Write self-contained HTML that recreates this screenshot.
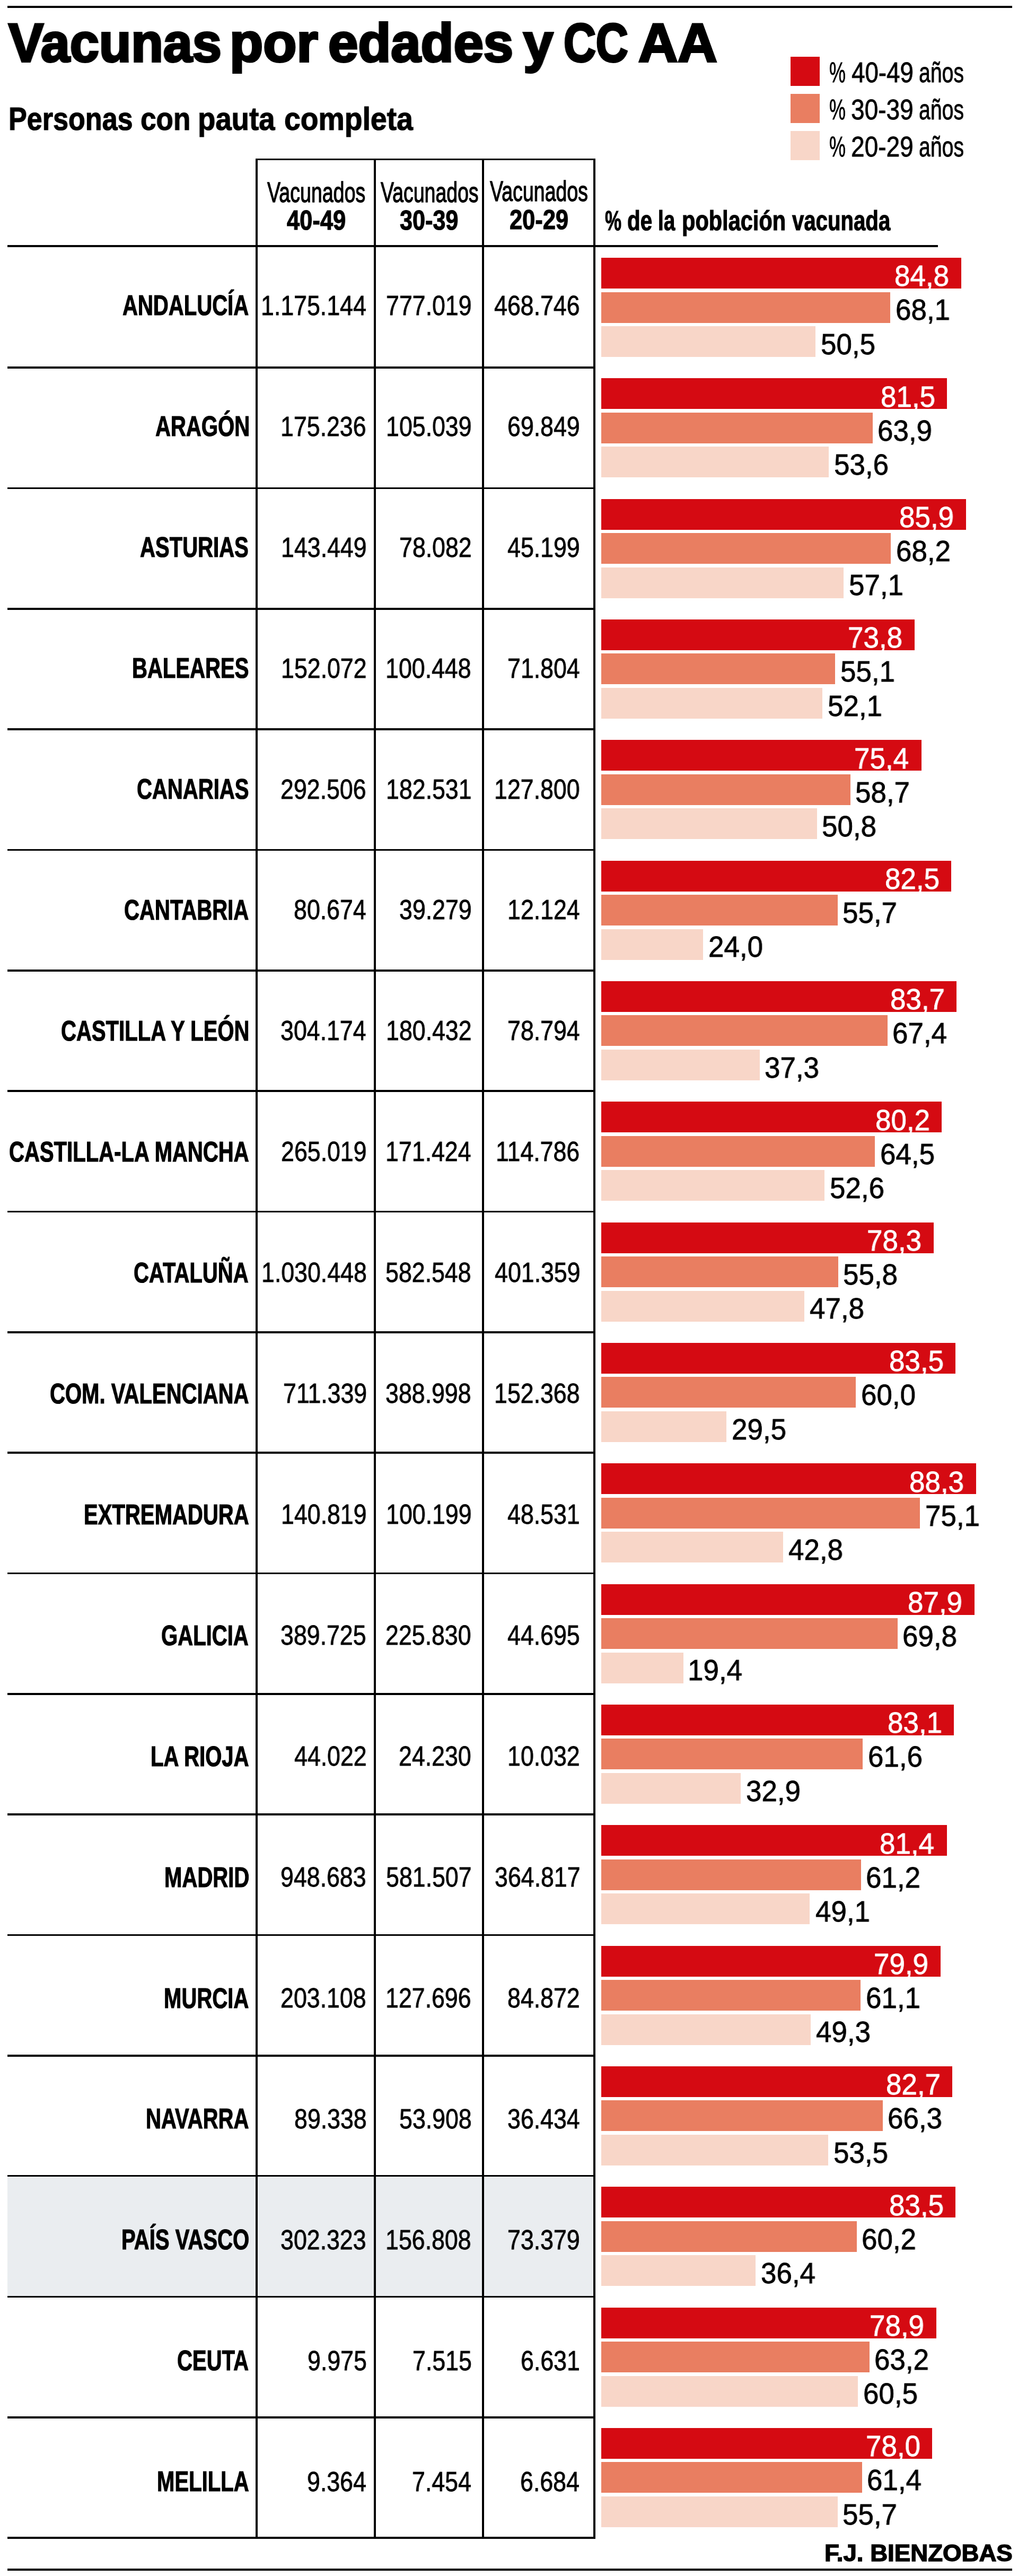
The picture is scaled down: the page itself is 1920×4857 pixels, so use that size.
<!DOCTYPE html>
<html><head><meta charset="utf-8"><title>Vacunas por edades y CC AA</title>
<style>
html,body{margin:0;padding:0;background:#fff;}
body{width:1920px;height:4857px;position:relative;overflow:hidden;color:#000;font-family:"Liberation Sans",sans-serif;}
.t{position:absolute;line-height:1;white-space:nowrap;font-family:"Liberation Sans",sans-serif;transform-origin:0 0;will-change:transform;}
</style></head><body>
<div style="position:absolute;left:14.00px;top:11.30px;width:1895.00px;height:3.60px;background:#000"></div>
<div style="position:absolute;left:14.00px;top:4843.20px;width:1895.00px;height:3.50px;background:#000"></div>
<div style="position:absolute;left:1491.00px;top:107.00px;width:55.00px;height:55.00px;background:#d50a12"></div>
<div style="position:absolute;left:1491.00px;top:177.00px;width:55.00px;height:55.00px;background:#e97e61"></div>
<div style="position:absolute;left:1491.00px;top:247.00px;width:55.00px;height:55.00px;background:#f8d6c8"></div>
<div style="position:absolute;left:482.00px;top:298.60px;width:641.00px;height:3.50px;background:#000"></div>
<div style="position:absolute;left:14.00px;top:462.00px;width:1755.00px;height:3.50px;background:#000"></div>
<div style="position:absolute;left:14.00px;top:691.30px;width:1109.00px;height:3.60px;background:#000"></div>
<div style="position:absolute;left:1134.00px;top:486.00px;width:678.82px;height:58.00px;background:#d50a12"></div>
<div style="position:absolute;left:1134.00px;top:550.50px;width:545.14px;height:58.00px;background:#e97e61"></div>
<div style="position:absolute;left:1134.00px;top:615.00px;width:404.25px;height:58.00px;background:#f8d6c8"></div>
<div style="position:absolute;left:14.00px;top:918.63px;width:1109.00px;height:3.60px;background:#000"></div>
<div style="position:absolute;left:1134.00px;top:713.33px;width:652.41px;height:58.00px;background:#d50a12"></div>
<div style="position:absolute;left:1134.00px;top:777.83px;width:511.52px;height:58.00px;background:#e97e61"></div>
<div style="position:absolute;left:1134.00px;top:842.33px;width:429.07px;height:58.00px;background:#f8d6c8"></div>
<div style="position:absolute;left:14.00px;top:1145.96px;width:1109.00px;height:3.60px;background:#000"></div>
<div style="position:absolute;left:1134.00px;top:940.66px;width:687.63px;height:58.00px;background:#d50a12"></div>
<div style="position:absolute;left:1134.00px;top:1005.16px;width:545.94px;height:58.00px;background:#e97e61"></div>
<div style="position:absolute;left:1134.00px;top:1069.66px;width:457.09px;height:58.00px;background:#f8d6c8"></div>
<div style="position:absolute;left:14.00px;top:1373.29px;width:1109.00px;height:3.60px;background:#000"></div>
<div style="position:absolute;left:1134.00px;top:1167.99px;width:590.77px;height:58.00px;background:#d50a12"></div>
<div style="position:absolute;left:1134.00px;top:1232.49px;width:441.08px;height:58.00px;background:#e97e61"></div>
<div style="position:absolute;left:1134.00px;top:1296.99px;width:417.06px;height:58.00px;background:#f8d6c8"></div>
<div style="position:absolute;left:14.00px;top:1600.62px;width:1109.00px;height:3.60px;background:#000"></div>
<div style="position:absolute;left:1134.00px;top:1395.32px;width:603.58px;height:58.00px;background:#d50a12"></div>
<div style="position:absolute;left:1134.00px;top:1459.82px;width:469.89px;height:58.00px;background:#e97e61"></div>
<div style="position:absolute;left:1134.00px;top:1524.32px;width:406.65px;height:58.00px;background:#f8d6c8"></div>
<div style="position:absolute;left:14.00px;top:1827.95px;width:1109.00px;height:3.60px;background:#000"></div>
<div style="position:absolute;left:1134.00px;top:1622.65px;width:660.41px;height:58.00px;background:#d50a12"></div>
<div style="position:absolute;left:1134.00px;top:1687.15px;width:445.88px;height:58.00px;background:#e97e61"></div>
<div style="position:absolute;left:1134.00px;top:1751.65px;width:192.12px;height:58.00px;background:#f8d6c8"></div>
<div style="position:absolute;left:14.00px;top:2055.28px;width:1109.00px;height:3.60px;background:#000"></div>
<div style="position:absolute;left:1134.00px;top:1849.98px;width:670.02px;height:58.00px;background:#d50a12"></div>
<div style="position:absolute;left:1134.00px;top:1914.48px;width:539.54px;height:58.00px;background:#e97e61"></div>
<div style="position:absolute;left:1134.00px;top:1978.98px;width:298.59px;height:58.00px;background:#f8d6c8"></div>
<div style="position:absolute;left:14.00px;top:2282.61px;width:1109.00px;height:3.60px;background:#000"></div>
<div style="position:absolute;left:1134.00px;top:2077.31px;width:642.00px;height:58.00px;background:#d50a12"></div>
<div style="position:absolute;left:1134.00px;top:2141.81px;width:516.32px;height:58.00px;background:#e97e61"></div>
<div style="position:absolute;left:1134.00px;top:2206.31px;width:421.06px;height:58.00px;background:#f8d6c8"></div>
<div style="position:absolute;left:14.00px;top:2509.94px;width:1109.00px;height:3.60px;background:#000"></div>
<div style="position:absolute;left:1134.00px;top:2304.64px;width:626.79px;height:58.00px;background:#d50a12"></div>
<div style="position:absolute;left:1134.00px;top:2369.14px;width:446.68px;height:58.00px;background:#e97e61"></div>
<div style="position:absolute;left:1134.00px;top:2433.64px;width:382.64px;height:58.00px;background:#f8d6c8"></div>
<div style="position:absolute;left:14.00px;top:2737.27px;width:1109.00px;height:3.60px;background:#000"></div>
<div style="position:absolute;left:1134.00px;top:2531.97px;width:668.42px;height:58.00px;background:#d50a12"></div>
<div style="position:absolute;left:1134.00px;top:2596.47px;width:480.30px;height:58.00px;background:#e97e61"></div>
<div style="position:absolute;left:1134.00px;top:2660.97px;width:236.15px;height:58.00px;background:#f8d6c8"></div>
<div style="position:absolute;left:14.00px;top:2964.60px;width:1109.00px;height:3.60px;background:#000"></div>
<div style="position:absolute;left:1134.00px;top:2759.30px;width:706.84px;height:58.00px;background:#d50a12"></div>
<div style="position:absolute;left:1134.00px;top:2823.80px;width:601.18px;height:58.00px;background:#e97e61"></div>
<div style="position:absolute;left:1134.00px;top:2888.30px;width:342.61px;height:58.00px;background:#f8d6c8"></div>
<div style="position:absolute;left:14.00px;top:3191.93px;width:1109.00px;height:3.60px;background:#000"></div>
<div style="position:absolute;left:1134.00px;top:2986.63px;width:703.64px;height:58.00px;background:#d50a12"></div>
<div style="position:absolute;left:1134.00px;top:3051.13px;width:558.75px;height:58.00px;background:#e97e61"></div>
<div style="position:absolute;left:1134.00px;top:3115.63px;width:155.30px;height:58.00px;background:#f8d6c8"></div>
<div style="position:absolute;left:14.00px;top:3419.26px;width:1109.00px;height:3.60px;background:#000"></div>
<div style="position:absolute;left:1134.00px;top:3213.96px;width:665.22px;height:58.00px;background:#d50a12"></div>
<div style="position:absolute;left:1134.00px;top:3278.46px;width:493.11px;height:58.00px;background:#e97e61"></div>
<div style="position:absolute;left:1134.00px;top:3342.96px;width:263.36px;height:58.00px;background:#f8d6c8"></div>
<div style="position:absolute;left:14.00px;top:3646.59px;width:1109.00px;height:3.60px;background:#000"></div>
<div style="position:absolute;left:1134.00px;top:3441.29px;width:651.61px;height:58.00px;background:#d50a12"></div>
<div style="position:absolute;left:1134.00px;top:3505.79px;width:489.91px;height:58.00px;background:#e97e61"></div>
<div style="position:absolute;left:1134.00px;top:3570.29px;width:393.05px;height:58.00px;background:#f8d6c8"></div>
<div style="position:absolute;left:14.00px;top:3873.92px;width:1109.00px;height:3.60px;background:#000"></div>
<div style="position:absolute;left:1134.00px;top:3668.62px;width:639.60px;height:58.00px;background:#d50a12"></div>
<div style="position:absolute;left:1134.00px;top:3733.12px;width:489.11px;height:58.00px;background:#e97e61"></div>
<div style="position:absolute;left:1134.00px;top:3797.62px;width:394.65px;height:58.00px;background:#f8d6c8"></div>
<div style="position:absolute;left:14.00px;top:4101.25px;width:1109.00px;height:3.60px;background:#000"></div>
<div style="position:absolute;left:1134.00px;top:3895.95px;width:662.01px;height:58.00px;background:#d50a12"></div>
<div style="position:absolute;left:1134.00px;top:3960.45px;width:530.73px;height:58.00px;background:#e97e61"></div>
<div style="position:absolute;left:1134.00px;top:4024.95px;width:428.27px;height:58.00px;background:#f8d6c8"></div>
<div style="position:absolute;left:14.00px;top:4104.25px;width:1106.50px;height:224.83px;background:#eaedf0"></div>
<div style="position:absolute;left:14.00px;top:4328.58px;width:1109.00px;height:3.60px;background:#000"></div>
<div style="position:absolute;left:1134.00px;top:4123.28px;width:668.42px;height:58.00px;background:#d50a12"></div>
<div style="position:absolute;left:1134.00px;top:4187.78px;width:481.90px;height:58.00px;background:#e97e61"></div>
<div style="position:absolute;left:1134.00px;top:4252.28px;width:291.38px;height:58.00px;background:#f8d6c8"></div>
<div style="position:absolute;left:14.00px;top:4555.91px;width:1109.00px;height:3.60px;background:#000"></div>
<div style="position:absolute;left:1134.00px;top:4350.61px;width:631.59px;height:58.00px;background:#d50a12"></div>
<div style="position:absolute;left:1134.00px;top:4415.11px;width:505.92px;height:58.00px;background:#e97e61"></div>
<div style="position:absolute;left:1134.00px;top:4479.61px;width:484.30px;height:58.00px;background:#f8d6c8"></div>
<div style="position:absolute;left:14.00px;top:4783.24px;width:1109.00px;height:3.60px;background:#000"></div>
<div style="position:absolute;left:1134.00px;top:4577.94px;width:624.39px;height:58.00px;background:#d50a12"></div>
<div style="position:absolute;left:1134.00px;top:4642.44px;width:491.51px;height:58.00px;background:#e97e61"></div>
<div style="position:absolute;left:1134.00px;top:4706.94px;width:445.88px;height:58.00px;background:#f8d6c8"></div>
<div style="position:absolute;left:482.00px;top:298.60px;width:3.70px;height:4487.90px;background:#000"></div>
<div style="position:absolute;left:705.30px;top:298.60px;width:3.70px;height:4487.90px;background:#000"></div>
<div style="position:absolute;left:909.00px;top:298.60px;width:3.70px;height:4487.90px;background:#000"></div>
<div style="position:absolute;left:1119.00px;top:298.60px;width:3.70px;height:4487.90px;background:#000"></div>
<div class="t" style="left:15.93px;top:29.90px;font-size:102.9px;font-weight:700;-webkit-text-stroke:4px #000;transform:scaleX(0.9626)">Vacunas</div>
<div class="t" style="left:433.47px;top:29.90px;font-size:102.9px;font-weight:700;-webkit-text-stroke:4px #000;transform:scaleX(1.0056)">por</div>
<div class="t" style="left:619.23px;top:29.90px;font-size:102.9px;font-weight:700;-webkit-text-stroke:4px #000;transform:scaleX(0.9846)">edades</div>
<div class="t" style="left:986.87px;top:29.90px;font-size:102.9px;font-weight:700;-webkit-text-stroke:4px #000;transform:scaleX(0.9852)">y</div>
<div class="t" style="left:1062.96px;top:29.90px;font-size:102.9px;font-weight:700;-webkit-text-stroke:4px #000;transform:scaleX(0.8185)">CC</div>
<div class="t" style="left:1203.70px;top:29.90px;font-size:102.9px;font-weight:700;-webkit-text-stroke:4px #000;transform:scaleX(0.9987)">AA</div>
<div class="t" style="left:16.43px;top:193.95px;font-size:60.9px;font-weight:700;-webkit-text-stroke-width:1.2px;transform:scaleX(0.8554)">Personas</div>
<div class="t" style="left:264.66px;top:193.95px;font-size:60.9px;font-weight:700;-webkit-text-stroke-width:1.2px;transform:scaleX(0.8718)">con</div>
<div class="t" style="left:373.11px;top:193.95px;font-size:60.9px;font-weight:700;-webkit-text-stroke-width:1.2px;transform:scaleX(0.8963)">pauta</div>
<div class="t" style="left:535.58px;top:193.95px;font-size:60.9px;font-weight:700;-webkit-text-stroke-width:1.2px;transform:scaleX(0.9083)">completa</div>
<div class="t" style="left:1564.35px;top:109.51px;font-size:53.5px;font-weight:400;-webkit-text-stroke-width:0.8px;transform:scaleX(0.6489)">%</div>
<div class="t" style="left:1605.85px;top:109.51px;font-size:53.5px;font-weight:400;-webkit-text-stroke-width:0.8px;transform:scaleX(0.8545)">40-49</div>
<div class="t" style="left:1733.23px;top:109.51px;font-size:53.5px;font-weight:400;-webkit-text-stroke-width:0.8px;transform:scaleX(0.7327)">años</div>
<div class="t" style="left:1564.35px;top:179.51px;font-size:53.5px;font-weight:400;-webkit-text-stroke-width:0.8px;transform:scaleX(0.6489)">%</div>
<div class="t" style="left:1604.98px;top:179.51px;font-size:53.5px;font-weight:400;-webkit-text-stroke-width:0.8px;transform:scaleX(0.8609)">30-39</div>
<div class="t" style="left:1733.23px;top:179.51px;font-size:53.5px;font-weight:400;-webkit-text-stroke-width:0.8px;transform:scaleX(0.7327)">años</div>
<div class="t" style="left:1564.35px;top:249.51px;font-size:53.5px;font-weight:400;-webkit-text-stroke-width:0.8px;transform:scaleX(0.6489)">%</div>
<div class="t" style="left:1604.98px;top:249.51px;font-size:53.5px;font-weight:400;-webkit-text-stroke-width:0.8px;transform:scaleX(0.8609)">20-29</div>
<div class="t" style="left:1733.23px;top:249.51px;font-size:53.5px;font-weight:400;-webkit-text-stroke-width:0.8px;transform:scaleX(0.7327)">años</div>
<div class="t" style="left:504.00px;top:335.88px;font-size:53.3px;font-weight:400;-webkit-text-stroke-width:1.3px;transform:scaleX(0.7050)">Vacunados</div>
<div class="t" style="left:540.50px;top:390.34px;font-size:51.7px;font-weight:700;-webkit-text-stroke-width:1.2px;transform:scaleX(0.8412)">40-49</div>
<div class="t" style="left:717.60px;top:336.08px;font-size:53.3px;font-weight:400;-webkit-text-stroke-width:1.3px;transform:scaleX(0.7027)">Vacunados</div>
<div class="t" style="left:754.17px;top:390.44px;font-size:51.7px;font-weight:700;-webkit-text-stroke-width:1.2px;transform:scaleX(0.8346)">30-39</div>
<div class="t" style="left:924.10px;top:333.68px;font-size:53.3px;font-weight:400;-webkit-text-stroke-width:1.3px;transform:scaleX(0.7038)">Vacunados</div>
<div class="t" style="left:960.56px;top:389.04px;font-size:51.7px;font-weight:700;-webkit-text-stroke-width:1.2px;transform:scaleX(0.8400)">20-29</div>
<div class="t" style="left:1141.14px;top:390.09px;font-size:52.7px;font-weight:700;-webkit-text-stroke-width:1.2px;transform:scaleX(0.6622)">%</div>
<div class="t" style="left:1183.23px;top:390.09px;font-size:52.7px;font-weight:700;-webkit-text-stroke-width:1.2px;transform:scaleX(0.7661)">de</div>
<div class="t" style="left:1241.40px;top:390.09px;font-size:52.7px;font-weight:700;-webkit-text-stroke-width:1.2px;transform:scaleX(0.7333)">la</div>
<div class="t" style="left:1286.34px;top:390.09px;font-size:52.7px;font-weight:700;-webkit-text-stroke-width:1.2px;transform:scaleX(0.7881)">población</div>
<div class="t" style="left:1493.90px;top:390.09px;font-size:52.7px;font-weight:700;-webkit-text-stroke-width:1.2px;transform:scaleX(0.7619)">vacunada</div>
<div class="t" style="left:230.96px;top:548.49px;font-size:54px;font-weight:700;-webkit-text-stroke-width:1.2px;transform:scaleX(0.7420)">ANDALUCÍA</div>
<div class="t" style="left:491.70px;top:549.84px;font-size:52.4px;font-weight:400;-webkit-text-stroke-width:0.8px;transform:scaleX(0.8530)">1.175.144</div>
<div class="t" style="left:728.09px;top:549.84px;font-size:52.4px;font-weight:400;-webkit-text-stroke-width:0.8px;transform:scaleX(0.8530)">777.019</div>
<div class="t" style="left:931.84px;top:549.84px;font-size:52.4px;font-weight:400;-webkit-text-stroke-width:0.8px;transform:scaleX(0.8530)">468.746</div>
<div class="t" style="left:1687.20px;top:493.31px;font-size:54.8px;font-weight:400;-webkit-text-stroke-width:0.8px;color:#fff;transform:scaleX(0.9650)">84,8</div>
<div class="t" style="left:1688.71px;top:557.31px;font-size:54.8px;font-weight:400;-webkit-text-stroke-width:0.8px;transform:scaleX(0.9650)">68,1</div>
<div class="t" style="left:1547.82px;top:621.81px;font-size:54.8px;font-weight:400;-webkit-text-stroke-width:0.8px;transform:scaleX(0.9650)">50,5</div>
<div class="t" style="left:292.55px;top:776.42px;font-size:54px;font-weight:700;-webkit-text-stroke-width:1.2px;transform:scaleX(0.7420)">ARAGÓN</div>
<div class="t" style="left:529.24px;top:777.77px;font-size:52.4px;font-weight:400;-webkit-text-stroke-width:0.8px;transform:scaleX(0.8530)">175.236</div>
<div class="t" style="left:728.09px;top:777.77px;font-size:52.4px;font-weight:400;-webkit-text-stroke-width:0.8px;transform:scaleX(0.8530)">105.039</div>
<div class="t" style="left:957.43px;top:777.77px;font-size:52.4px;font-weight:400;-webkit-text-stroke-width:0.8px;transform:scaleX(0.8530)">69.849</div>
<div class="t" style="left:1660.78px;top:720.64px;font-size:54.8px;font-weight:400;-webkit-text-stroke-width:0.8px;color:#fff;transform:scaleX(0.9650)">81,5</div>
<div class="t" style="left:1655.09px;top:784.64px;font-size:54.8px;font-weight:400;-webkit-text-stroke-width:0.8px;transform:scaleX(0.9650)">63,9</div>
<div class="t" style="left:1572.64px;top:849.14px;font-size:54.8px;font-weight:400;-webkit-text-stroke-width:0.8px;transform:scaleX(0.9650)">53,6</div>
<div class="t" style="left:264.35px;top:1004.35px;font-size:54px;font-weight:700;-webkit-text-stroke-width:1.2px;transform:scaleX(0.7420)">ASTURIAS</div>
<div class="t" style="left:530.09px;top:1005.70px;font-size:52.4px;font-weight:400;-webkit-text-stroke-width:0.8px;transform:scaleX(0.8530)">143.449</div>
<div class="t" style="left:752.83px;top:1005.70px;font-size:52.4px;font-weight:400;-webkit-text-stroke-width:0.8px;transform:scaleX(0.8530)">78.082</div>
<div class="t" style="left:957.43px;top:1005.70px;font-size:52.4px;font-weight:400;-webkit-text-stroke-width:0.8px;transform:scaleX(0.8530)">45.199</div>
<div class="t" style="left:1696.00px;top:947.97px;font-size:54.8px;font-weight:400;-webkit-text-stroke-width:0.8px;color:#fff;transform:scaleX(0.9650)">85,9</div>
<div class="t" style="left:1689.51px;top:1011.97px;font-size:54.8px;font-weight:400;-webkit-text-stroke-width:0.8px;transform:scaleX(0.9650)">68,2</div>
<div class="t" style="left:1600.66px;top:1076.47px;font-size:54.8px;font-weight:400;-webkit-text-stroke-width:0.8px;transform:scaleX(0.9650)">57,1</div>
<div class="t" style="left:248.77px;top:1232.28px;font-size:54px;font-weight:700;-webkit-text-stroke-width:1.2px;transform:scaleX(0.7420)">BALEARES</div>
<div class="t" style="left:530.09px;top:1233.63px;font-size:52.4px;font-weight:400;-webkit-text-stroke-width:0.8px;transform:scaleX(0.8530)">152.072</div>
<div class="t" style="left:727.24px;top:1233.63px;font-size:52.4px;font-weight:400;-webkit-text-stroke-width:0.8px;transform:scaleX(0.8530)">100.448</div>
<div class="t" style="left:956.57px;top:1233.63px;font-size:52.4px;font-weight:400;-webkit-text-stroke-width:0.8px;transform:scaleX(0.8530)">71.804</div>
<div class="t" style="left:1599.14px;top:1175.30px;font-size:54.8px;font-weight:400;-webkit-text-stroke-width:0.8px;color:#fff;transform:scaleX(0.9650)">73,8</div>
<div class="t" style="left:1584.65px;top:1239.30px;font-size:54.8px;font-weight:400;-webkit-text-stroke-width:0.8px;transform:scaleX(0.9650)">55,1</div>
<div class="t" style="left:1560.63px;top:1303.80px;font-size:54.8px;font-weight:400;-webkit-text-stroke-width:0.8px;transform:scaleX(0.9650)">52,1</div>
<div class="t" style="left:257.67px;top:1460.21px;font-size:54px;font-weight:700;-webkit-text-stroke-width:1.2px;transform:scaleX(0.7420)">CANARIAS</div>
<div class="t" style="left:529.24px;top:1461.56px;font-size:52.4px;font-weight:400;-webkit-text-stroke-width:0.8px;transform:scaleX(0.8530)">292.506</div>
<div class="t" style="left:728.09px;top:1461.56px;font-size:52.4px;font-weight:400;-webkit-text-stroke-width:0.8px;transform:scaleX(0.8530)">182.531</div>
<div class="t" style="left:931.84px;top:1461.56px;font-size:52.4px;font-weight:400;-webkit-text-stroke-width:0.8px;transform:scaleX(0.8530)">127.800</div>
<div class="t" style="left:1610.99px;top:1402.63px;font-size:54.8px;font-weight:400;-webkit-text-stroke-width:0.8px;color:#fff;transform:scaleX(0.9650)">75,4</div>
<div class="t" style="left:1613.46px;top:1466.63px;font-size:54.8px;font-weight:400;-webkit-text-stroke-width:0.8px;transform:scaleX(0.9650)">58,7</div>
<div class="t" style="left:1550.22px;top:1531.13px;font-size:54.8px;font-weight:400;-webkit-text-stroke-width:0.8px;transform:scaleX(0.9650)">50,8</div>
<div class="t" style="left:233.93px;top:1688.14px;font-size:54px;font-weight:700;-webkit-text-stroke-width:1.2px;transform:scaleX(0.7420)">CANTABRIA</div>
<div class="t" style="left:553.97px;top:1689.49px;font-size:52.4px;font-weight:400;-webkit-text-stroke-width:0.8px;transform:scaleX(0.8530)">80.674</div>
<div class="t" style="left:752.83px;top:1689.49px;font-size:52.4px;font-weight:400;-webkit-text-stroke-width:0.8px;transform:scaleX(0.8530)">39.279</div>
<div class="t" style="left:956.57px;top:1689.49px;font-size:52.4px;font-weight:400;-webkit-text-stroke-width:0.8px;transform:scaleX(0.8530)">12.124</div>
<div class="t" style="left:1668.79px;top:1629.96px;font-size:54.8px;font-weight:400;-webkit-text-stroke-width:0.8px;color:#fff;transform:scaleX(0.9650)">82,5</div>
<div class="t" style="left:1589.45px;top:1693.96px;font-size:54.8px;font-weight:400;-webkit-text-stroke-width:0.8px;transform:scaleX(0.9650)">55,7</div>
<div class="t" style="left:1335.69px;top:1758.46px;font-size:54.8px;font-weight:400;-webkit-text-stroke-width:0.8px;transform:scaleX(0.9650)">24,0</div>
<div class="t" style="left:115.21px;top:1916.07px;font-size:54px;font-weight:700;-webkit-text-stroke-width:1.2px;transform:scaleX(0.7420)">CASTILLA Y LEÓN</div>
<div class="t" style="left:529.24px;top:1917.42px;font-size:52.4px;font-weight:400;-webkit-text-stroke-width:0.8px;transform:scaleX(0.8530)">304.174</div>
<div class="t" style="left:728.09px;top:1917.42px;font-size:52.4px;font-weight:400;-webkit-text-stroke-width:0.8px;transform:scaleX(0.8530)">180.432</div>
<div class="t" style="left:956.57px;top:1917.42px;font-size:52.4px;font-weight:400;-webkit-text-stroke-width:0.8px;transform:scaleX(0.8530)">78.794</div>
<div class="t" style="left:1679.36px;top:1857.29px;font-size:54.8px;font-weight:400;-webkit-text-stroke-width:0.8px;color:#fff;transform:scaleX(0.9650)">83,7</div>
<div class="t" style="left:1683.11px;top:1921.29px;font-size:54.8px;font-weight:400;-webkit-text-stroke-width:0.8px;transform:scaleX(0.9650)">67,4</div>
<div class="t" style="left:1442.16px;top:1985.79px;font-size:54.8px;font-weight:400;-webkit-text-stroke-width:0.8px;transform:scaleX(0.9650)">37,3</div>
<div class="t" style="left:16.52px;top:2144.00px;font-size:54px;font-weight:700;-webkit-text-stroke-width:1.2px;transform:scaleX(0.7420)">CASTILLA-LA MANCHA</div>
<div class="t" style="left:530.09px;top:2145.35px;font-size:52.4px;font-weight:400;-webkit-text-stroke-width:0.8px;transform:scaleX(0.8530)">265.019</div>
<div class="t" style="left:727.24px;top:2145.35px;font-size:52.4px;font-weight:400;-webkit-text-stroke-width:0.8px;transform:scaleX(0.8530)">171.424</div>
<div class="t" style="left:935.25px;top:2145.35px;font-size:52.4px;font-weight:400;-webkit-text-stroke-width:0.8px;transform:scaleX(0.8530)">114.786</div>
<div class="t" style="left:1651.34px;top:2084.62px;font-size:54.8px;font-weight:400;-webkit-text-stroke-width:0.8px;color:#fff;transform:scaleX(0.9650)">80,2</div>
<div class="t" style="left:1659.89px;top:2148.62px;font-size:54.8px;font-weight:400;-webkit-text-stroke-width:0.8px;transform:scaleX(0.9650)">64,5</div>
<div class="t" style="left:1564.63px;top:2213.12px;font-size:54.8px;font-weight:400;-webkit-text-stroke-width:0.8px;transform:scaleX(0.9650)">52,6</div>
<div class="t" style="left:252.48px;top:2371.93px;font-size:54px;font-weight:700;-webkit-text-stroke-width:1.2px;transform:scaleX(0.7420)">CATALUÑA</div>
<div class="t" style="left:492.56px;top:2373.28px;font-size:52.4px;font-weight:400;-webkit-text-stroke-width:0.8px;transform:scaleX(0.8530)">1.030.448</div>
<div class="t" style="left:727.24px;top:2373.28px;font-size:52.4px;font-weight:400;-webkit-text-stroke-width:0.8px;transform:scaleX(0.8530)">582.548</div>
<div class="t" style="left:932.69px;top:2373.28px;font-size:52.4px;font-weight:400;-webkit-text-stroke-width:0.8px;transform:scaleX(0.8530)">401.359</div>
<div class="t" style="left:1635.17px;top:2311.95px;font-size:54.8px;font-weight:400;-webkit-text-stroke-width:0.8px;color:#fff;transform:scaleX(0.9650)">78,3</div>
<div class="t" style="left:1590.25px;top:2375.95px;font-size:54.8px;font-weight:400;-webkit-text-stroke-width:0.8px;transform:scaleX(0.9650)">55,8</div>
<div class="t" style="left:1527.17px;top:2440.45px;font-size:54.8px;font-weight:400;-webkit-text-stroke-width:0.8px;transform:scaleX(0.9650)">47,8</div>
<div class="t" style="left:93.69px;top:2599.86px;font-size:54px;font-weight:700;-webkit-text-stroke-width:1.2px;transform:scaleX(0.7420)">COM. VALENCIANA</div>
<div class="t" style="left:533.50px;top:2601.21px;font-size:52.4px;font-weight:400;-webkit-text-stroke-width:0.8px;transform:scaleX(0.8530)">711.339</div>
<div class="t" style="left:727.24px;top:2601.21px;font-size:52.4px;font-weight:400;-webkit-text-stroke-width:0.8px;transform:scaleX(0.8530)">388.998</div>
<div class="t" style="left:931.84px;top:2601.21px;font-size:52.4px;font-weight:400;-webkit-text-stroke-width:0.8px;transform:scaleX(0.8530)">152.368</div>
<div class="t" style="left:1676.79px;top:2539.28px;font-size:54.8px;font-weight:400;-webkit-text-stroke-width:0.8px;color:#fff;transform:scaleX(0.9650)">83,5</div>
<div class="t" style="left:1623.87px;top:2603.28px;font-size:54.8px;font-weight:400;-webkit-text-stroke-width:0.8px;transform:scaleX(0.9650)">60,0</div>
<div class="t" style="left:1379.72px;top:2667.78px;font-size:54.8px;font-weight:400;-webkit-text-stroke-width:0.8px;transform:scaleX(0.9650)">29,5</div>
<div class="t" style="left:157.50px;top:2827.79px;font-size:54px;font-weight:700;-webkit-text-stroke-width:1.2px;transform:scaleX(0.7420)">EXTREMADURA</div>
<div class="t" style="left:530.09px;top:2829.14px;font-size:52.4px;font-weight:400;-webkit-text-stroke-width:0.8px;transform:scaleX(0.8530)">140.819</div>
<div class="t" style="left:728.09px;top:2829.14px;font-size:52.4px;font-weight:400;-webkit-text-stroke-width:0.8px;transform:scaleX(0.8530)">100.199</div>
<div class="t" style="left:957.43px;top:2829.14px;font-size:52.4px;font-weight:400;-webkit-text-stroke-width:0.8px;transform:scaleX(0.8530)">48.531</div>
<div class="t" style="left:1715.22px;top:2766.61px;font-size:54.8px;font-weight:400;-webkit-text-stroke-width:0.8px;color:#fff;transform:scaleX(0.9650)">88,3</div>
<div class="t" style="left:1744.75px;top:2830.61px;font-size:54.8px;font-weight:400;-webkit-text-stroke-width:0.8px;transform:scaleX(0.9650)">75,1</div>
<div class="t" style="left:1487.15px;top:2895.11px;font-size:54.8px;font-weight:400;-webkit-text-stroke-width:0.8px;transform:scaleX(0.9650)">42,8</div>
<div class="t" style="left:304.42px;top:3055.72px;font-size:54px;font-weight:700;-webkit-text-stroke-width:1.2px;transform:scaleX(0.7420)">GALICIA</div>
<div class="t" style="left:529.24px;top:3057.07px;font-size:52.4px;font-weight:400;-webkit-text-stroke-width:0.8px;transform:scaleX(0.8530)">389.725</div>
<div class="t" style="left:727.24px;top:3057.07px;font-size:52.4px;font-weight:400;-webkit-text-stroke-width:0.8px;transform:scaleX(0.8530)">225.830</div>
<div class="t" style="left:957.43px;top:3057.07px;font-size:52.4px;font-weight:400;-webkit-text-stroke-width:0.8px;transform:scaleX(0.8530)">44.695</div>
<div class="t" style="left:1712.01px;top:2993.94px;font-size:54.8px;font-weight:400;-webkit-text-stroke-width:0.8px;color:#fff;transform:scaleX(0.9650)">87,9</div>
<div class="t" style="left:1702.32px;top:3057.94px;font-size:54.8px;font-weight:400;-webkit-text-stroke-width:0.8px;transform:scaleX(0.9650)">69,8</div>
<div class="t" style="left:1296.94px;top:3122.44px;font-size:54.8px;font-weight:400;-webkit-text-stroke-width:0.8px;transform:scaleX(0.9650)">19,4</div>
<div class="t" style="left:283.64px;top:3283.65px;font-size:54px;font-weight:700;-webkit-text-stroke-width:1.2px;transform:scaleX(0.7420)">LA RIOJA</div>
<div class="t" style="left:554.83px;top:3285.00px;font-size:52.4px;font-weight:400;-webkit-text-stroke-width:0.8px;transform:scaleX(0.8530)">44.022</div>
<div class="t" style="left:751.97px;top:3285.00px;font-size:52.4px;font-weight:400;-webkit-text-stroke-width:0.8px;transform:scaleX(0.8530)">24.230</div>
<div class="t" style="left:957.43px;top:3285.00px;font-size:52.4px;font-weight:400;-webkit-text-stroke-width:0.8px;transform:scaleX(0.8530)">10.032</div>
<div class="t" style="left:1673.59px;top:3221.27px;font-size:54.8px;font-weight:400;-webkit-text-stroke-width:0.8px;color:#fff;transform:scaleX(0.9650)">83,1</div>
<div class="t" style="left:1636.68px;top:3285.27px;font-size:54.8px;font-weight:400;-webkit-text-stroke-width:0.8px;transform:scaleX(0.9650)">61,6</div>
<div class="t" style="left:1406.93px;top:3349.77px;font-size:54.8px;font-weight:400;-webkit-text-stroke-width:0.8px;transform:scaleX(0.9650)">32,9</div>
<div class="t" style="left:309.61px;top:3511.58px;font-size:54px;font-weight:700;-webkit-text-stroke-width:1.2px;transform:scaleX(0.7420)">MADRID</div>
<div class="t" style="left:529.24px;top:3512.93px;font-size:52.4px;font-weight:400;-webkit-text-stroke-width:0.8px;transform:scaleX(0.8530)">948.683</div>
<div class="t" style="left:728.09px;top:3512.93px;font-size:52.4px;font-weight:400;-webkit-text-stroke-width:0.8px;transform:scaleX(0.8530)">581.507</div>
<div class="t" style="left:932.69px;top:3512.93px;font-size:52.4px;font-weight:400;-webkit-text-stroke-width:0.8px;transform:scaleX(0.8530)">364.817</div>
<div class="t" style="left:1659.02px;top:3448.60px;font-size:54.8px;font-weight:400;-webkit-text-stroke-width:0.8px;color:#fff;transform:scaleX(0.9650)">81,4</div>
<div class="t" style="left:1633.48px;top:3512.60px;font-size:54.8px;font-weight:400;-webkit-text-stroke-width:0.8px;transform:scaleX(0.9650)">61,2</div>
<div class="t" style="left:1537.58px;top:3577.10px;font-size:54.8px;font-weight:400;-webkit-text-stroke-width:0.8px;transform:scaleX(0.9650)">49,1</div>
<div class="t" style="left:308.87px;top:3739.51px;font-size:54px;font-weight:700;-webkit-text-stroke-width:1.2px;transform:scaleX(0.7420)">MURCIA</div>
<div class="t" style="left:529.24px;top:3740.86px;font-size:52.4px;font-weight:400;-webkit-text-stroke-width:0.8px;transform:scaleX(0.8530)">203.108</div>
<div class="t" style="left:727.24px;top:3740.86px;font-size:52.4px;font-weight:400;-webkit-text-stroke-width:0.8px;transform:scaleX(0.8530)">127.696</div>
<div class="t" style="left:957.43px;top:3740.86px;font-size:52.4px;font-weight:400;-webkit-text-stroke-width:0.8px;transform:scaleX(0.8530)">84.872</div>
<div class="t" style="left:1647.97px;top:3675.93px;font-size:54.8px;font-weight:400;-webkit-text-stroke-width:0.8px;color:#fff;transform:scaleX(0.9650)">79,9</div>
<div class="t" style="left:1632.68px;top:3739.93px;font-size:54.8px;font-weight:400;-webkit-text-stroke-width:0.8px;transform:scaleX(0.9650)">61,1</div>
<div class="t" style="left:1539.18px;top:3804.43px;font-size:54.8px;font-weight:400;-webkit-text-stroke-width:0.8px;transform:scaleX(0.9650)">49,3</div>
<div class="t" style="left:274.74px;top:3967.44px;font-size:54px;font-weight:700;-webkit-text-stroke-width:1.2px;transform:scaleX(0.7420)">NAVARRA</div>
<div class="t" style="left:554.83px;top:3968.79px;font-size:52.4px;font-weight:400;-webkit-text-stroke-width:0.8px;transform:scaleX(0.8530)">89.338</div>
<div class="t" style="left:752.83px;top:3968.79px;font-size:52.4px;font-weight:400;-webkit-text-stroke-width:0.8px;transform:scaleX(0.8530)">53.908</div>
<div class="t" style="left:956.57px;top:3968.79px;font-size:52.4px;font-weight:400;-webkit-text-stroke-width:0.8px;transform:scaleX(0.8530)">36.434</div>
<div class="t" style="left:1671.35px;top:3903.26px;font-size:54.8px;font-weight:400;-webkit-text-stroke-width:0.8px;color:#fff;transform:scaleX(0.9650)">82,7</div>
<div class="t" style="left:1674.30px;top:3967.26px;font-size:54.8px;font-weight:400;-webkit-text-stroke-width:0.8px;transform:scaleX(0.9650)">66,3</div>
<div class="t" style="left:1571.84px;top:4031.76px;font-size:54.8px;font-weight:400;-webkit-text-stroke-width:0.8px;transform:scaleX(0.9650)">53,5</div>
<div class="t" style="left:228.73px;top:4195.37px;font-size:54px;font-weight:700;-webkit-text-stroke-width:1.2px;transform:scaleX(0.7420)">PAÍS VASCO</div>
<div class="t" style="left:529.24px;top:4196.72px;font-size:52.4px;font-weight:400;-webkit-text-stroke-width:0.8px;transform:scaleX(0.8530)">302.323</div>
<div class="t" style="left:727.24px;top:4196.72px;font-size:52.4px;font-weight:400;-webkit-text-stroke-width:0.8px;transform:scaleX(0.8530)">156.808</div>
<div class="t" style="left:957.43px;top:4196.72px;font-size:52.4px;font-weight:400;-webkit-text-stroke-width:0.8px;transform:scaleX(0.8530)">73.379</div>
<div class="t" style="left:1676.79px;top:4130.59px;font-size:54.8px;font-weight:400;-webkit-text-stroke-width:0.8px;color:#fff;transform:scaleX(0.9650)">83,5</div>
<div class="t" style="left:1625.47px;top:4194.59px;font-size:54.8px;font-weight:400;-webkit-text-stroke-width:0.8px;transform:scaleX(0.9650)">60,2</div>
<div class="t" style="left:1434.95px;top:4259.09px;font-size:54.8px;font-weight:400;-webkit-text-stroke-width:0.8px;transform:scaleX(0.9650)">36,4</div>
<div class="t" style="left:334.10px;top:4423.30px;font-size:54px;font-weight:700;-webkit-text-stroke-width:1.2px;transform:scaleX(0.7420)">CEUTA</div>
<div class="t" style="left:579.56px;top:4424.65px;font-size:52.4px;font-weight:400;-webkit-text-stroke-width:0.8px;transform:scaleX(0.8530)">9.975</div>
<div class="t" style="left:777.56px;top:4424.65px;font-size:52.4px;font-weight:400;-webkit-text-stroke-width:0.8px;transform:scaleX(0.8530)">7.515</div>
<div class="t" style="left:982.16px;top:4424.65px;font-size:52.4px;font-weight:400;-webkit-text-stroke-width:0.8px;transform:scaleX(0.8530)">6.631</div>
<div class="t" style="left:1639.97px;top:4357.92px;font-size:54.8px;font-weight:400;-webkit-text-stroke-width:0.8px;color:#fff;transform:scaleX(0.9650)">78,9</div>
<div class="t" style="left:1649.49px;top:4421.92px;font-size:54.8px;font-weight:400;-webkit-text-stroke-width:0.8px;transform:scaleX(0.9650)">63,2</div>
<div class="t" style="left:1627.87px;top:4486.42px;font-size:54.8px;font-weight:400;-webkit-text-stroke-width:0.8px;transform:scaleX(0.9650)">60,5</div>
<div class="t" style="left:295.51px;top:4651.23px;font-size:54px;font-weight:700;-webkit-text-stroke-width:1.2px;transform:scaleX(0.7420)">MELILLA</div>
<div class="t" style="left:578.71px;top:4652.58px;font-size:52.4px;font-weight:400;-webkit-text-stroke-width:0.8px;transform:scaleX(0.8530)">9.364</div>
<div class="t" style="left:776.71px;top:4652.58px;font-size:52.4px;font-weight:400;-webkit-text-stroke-width:0.8px;transform:scaleX(0.8530)">7.454</div>
<div class="t" style="left:981.31px;top:4652.58px;font-size:52.4px;font-weight:400;-webkit-text-stroke-width:0.8px;transform:scaleX(0.8530)">6.684</div>
<div class="t" style="left:1632.77px;top:4585.25px;font-size:54.8px;font-weight:400;-webkit-text-stroke-width:0.8px;color:#fff;transform:scaleX(0.9650)">78,0</div>
<div class="t" style="left:1635.08px;top:4649.25px;font-size:54.8px;font-weight:400;-webkit-text-stroke-width:0.8px;transform:scaleX(0.9650)">61,4</div>
<div class="t" style="left:1589.45px;top:4713.75px;font-size:54.8px;font-weight:400;-webkit-text-stroke-width:0.8px;transform:scaleX(0.9650)">55,7</div>
<div class="t" style="left:1554.77px;top:4790.76px;font-size:45px;font-weight:700;-webkit-text-stroke:1.5px #000;transform:scaleX(1.0135)">F.J. BIENZOBAS</div>
</body></html>
